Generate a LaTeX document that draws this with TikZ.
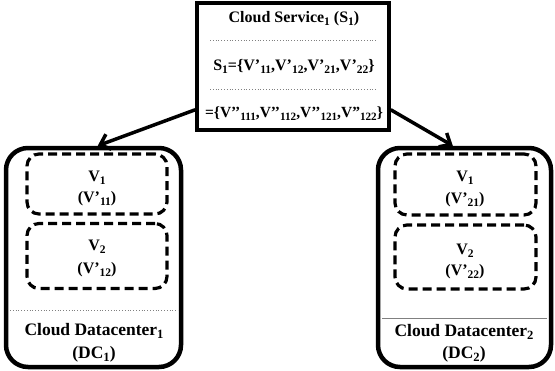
\documentclass[tikz,border=0pt]{standalone}
\usepackage{fontspec}
\setmainfont{Liberation Serif}
\usetikzlibrary{arrows.meta,calc}
\newcommand\sbs[1]{\raisebox{-0.2em}{\scalebox{0.72}{#1}}}
\begin{document}
\begin{tikzpicture}[x=1pt,y=-1pt,
  txt/.style={font=\fontsize{16}{18}\selectfont\bfseries, inner sep=0pt, anchor=base},
  bigtxt/.style={font=\fontsize{17.5}{19}\selectfont\bfseries, inner sep=0pt, anchor=base},
  svcbox/.style={draw, line width=3.5pt, minimum width=192pt, minimum height=127pt, inner sep=0pt},
  dcbox/.style={draw, line width=4.5pt, rounded corners=22pt, minimum width=175pt, minimum height=219pt, inner sep=0pt},
  vmbox/.style={draw, line width=3.2pt, dash pattern=on 9pt off 5pt, rounded corners=12pt, minimum width=140pt, minimum height=60pt, inner sep=0pt},
  sepdot/.style={draw=gray, line width=0.8pt, dotted},
  sepline/.style={draw=gray, line width=0.6pt},
  arr/.style={line width=3.5pt, -{Straight Barb[length=9pt,width=16pt,line width=3.5pt]}}
]
\useasboundingbox (0,0) rectangle (555,370);
% service box
\node[svcbox] (svc) at (293,66.5) {};
\node[txt] (t1) at (294,22) {Cloud Service\sbs{1} (S\sbs{1})};
\draw[sepdot] (210,40) -- (377,40);
\node[txt] (t2) at (294,70) {S\sbs{1}=\{V’\sbs{11},V’\sbs{12},V’\sbs{21},V’\sbs{22}\}};
\draw[sepdot] (210,89) -- (377,89);
\node[txt, font=\fontsize{15.5}{18}\selectfont\bfseries] (t3) at (294,117) {=\{V’’\sbs{111},V’’\sbs{112},V’’\sbs{121},V”\sbs{122}\}};
% datacenter 1
\node[dcbox] (dc1) at (93.5,257.5) {};
\node[vmbox] (v11) at (97,184) {};
\node[vmbox, minimum height=65pt] (v12) at (97,256) {};
\node[txt] (v11a) at (97,181) {V\sbs{1}};
\node[txt] (v11b) at (97,202) {(V’\sbs{11})};
\node[txt] (v12a) at (97,250) {V\sbs{2}};
\node[txt] (v12b) at (97,273) {(V’\sbs{12})};
\draw[sepdot] (10,310) -- (178,310);
\node[bigtxt] (dc1a) at (94,335) {Cloud Datacenter\sbs{1}};
\node[bigtxt] (dc1b) at (94,358) {(DC\sbs{1})};
% datacenter 2
\node[dcbox, minimum width=173pt] (dc2) at (464.5,257.5) {};
\node[vmbox, minimum width=141pt, minimum height=61pt] (v21) at (465.5,184.5) {};
\node[vmbox, minimum width=141pt, minimum height=64pt] (v22) at (465.5,257) {};
\node[txt] (v21a) at (465,181) {V\sbs{1}};
\node[txt] (v21b) at (465,203) {(V’\sbs{21})};
\node[txt] (v22a) at (465,254) {V\sbs{2}};
\node[txt] (v22b) at (465,275) {(V’\sbs{22})};
\draw[sepline] (382,318) -- (547,318);
\node[bigtxt] (dc2a) at (464,336) {Cloud Datacenter\sbs{2}};
\node[bigtxt] (dc2b) at (464,358) {(DC\sbs{2})};
% arrows
\draw[arr] ($(svc.south west)+(0,-22)$) -- ($(dc1.north west)+(94,0)$);
\draw[arr] ($(svc.south east)+(0,-22)$) -- ($(dc2.north west)+(77,0)$);
\end{tikzpicture}
\end{document}
